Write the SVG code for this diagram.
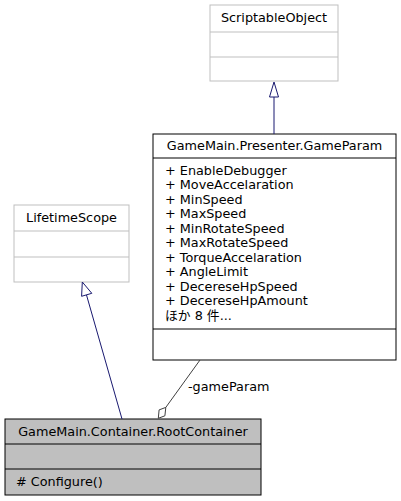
<svg xmlns="http://www.w3.org/2000/svg" width="401" height="501" viewBox="0 0 401 501">
<style>
text{font-family:"DejaVu Sans","Noto Sans CJK JP",sans-serif;font-size:12.8px;fill:#000}
.c{text-anchor:middle}
.lite{fill:#fff;stroke:#bfbfbf;stroke-width:1}
.dark{fill:#fff;stroke:#000;stroke-width:1}
.sel{fill:#bfbfbf;stroke:#000;stroke-width:1}
.gen{fill:none;stroke:#191970;stroke-width:1}
.agg{fill:none;stroke:#404040;stroke-width:1}
</style>
<rect width="401" height="501" fill="#fff"/>
<g id="ScriptableObject">
<rect class="lite" x="210" y="5" width="128" height="76"/>
<line class="lite" x1="210" y1="32" x2="338" y2="32"/>
<line class="lite" x1="210" y1="57" x2="338" y2="57"/>
<text class="c" x="274" y="22">ScriptableObject</text>
</g>
<g id="LifetimeScope">
<rect class="lite" x="14" y="205" width="115" height="77"/>
<line class="lite" x1="14" y1="231" x2="129" y2="231"/>
<line class="lite" x1="14" y1="257" x2="129" y2="257"/>
<text class="c" x="71.5" y="222">LifetimeScope</text>
</g>
<g id="GameParam">
<rect class="dark" x="153" y="134" width="243" height="226"/>
<line class="dark" x1="153" y1="158" x2="396" y2="158"/>
<line class="dark" x1="153" y1="329" x2="396" y2="329"/>
<text class="c" x="274.5" y="150">GameMain.Presenter.GameParam</text>
<text x="165" y="174.5">+ EnableDebugger</text>
<text x="165" y="189">+ MoveAccelaration</text>
<text x="165" y="203.5">+ MinSpeed</text>
<text x="165" y="218">+ MaxSpeed</text>
<text x="165" y="232.5">+ MinRotateSpeed</text>
<text x="165" y="247">+ MaxRotateSpeed</text>
<text x="165" y="261.5">+ TorqueAccelaration</text>
<text x="165" y="276">+ AngleLimit</text>
<text x="165" y="290.5">+ DecereseHpSpeed</text>
<text x="165" y="305">+ DecereseHpAmount</text>
<text x="165" y="319.5">ほか 8 件...</text>
</g>
<g id="RootContainer">
<rect class="sel" x="5" y="419" width="256" height="76"/>
<line class="sel" x1="5" y1="444" x2="261" y2="444"/>
<line class="sel" x1="5" y1="469" x2="261" y2="469"/>
<text class="c" x="133" y="436">GameMain.Container.RootContainer</text>
<text x="16" y="486"># Configure()</text>
</g>
<g id="connectors">
<line class="gen" x1="274" y1="134" x2="274" y2="97"/>
<polygon class="gen" points="274,82 269.5,97 278.5,97"/>
<line class="gen" x1="122" y1="419" x2="86.5" y2="295"/>
<polygon class="gen" points="82.3,282 81.6,296.3 91.8,293.3"/>
<line class="agg" x1="200" y1="360" x2="165.8" y2="407.4"/>
<polygon class="agg" points="158.3,418.3 159.1,409.9 165.8,407.4 164.9,415.8"/>
<text x="188" y="391">-gameParam</text>
</g>
</svg>
